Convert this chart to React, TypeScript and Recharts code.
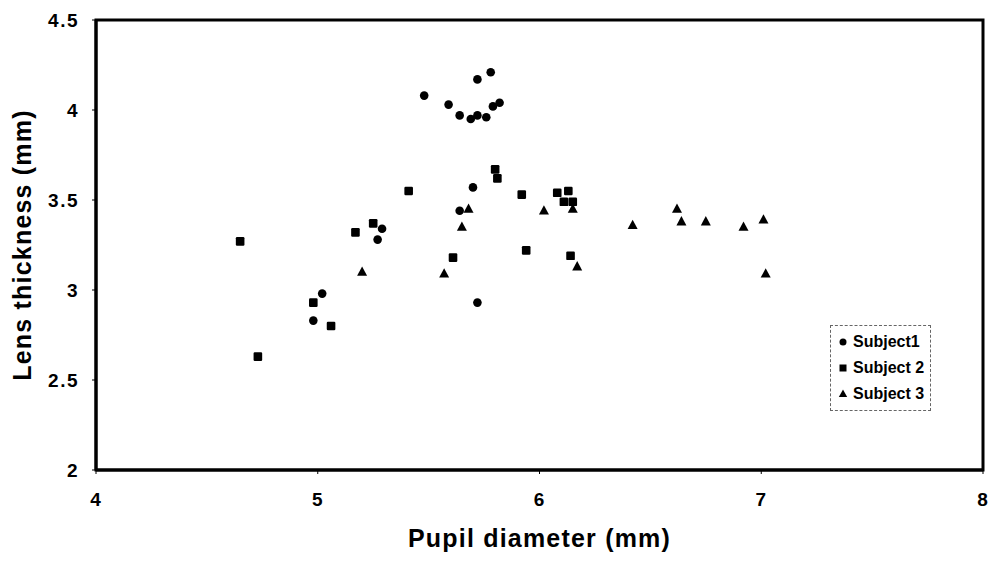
import { ScatterChart, Scatter, XAxis, YAxis, Legend, ReferenceArea } from "recharts";

// values, pupil diameter (mm) vs lens thickness (mm)
const subject1X = [5.48, 5.59, 5.64, 5.69, 5.72, 5.76, 5.79, 5.82, 5.72, 5.78, 5.7, 5.64, 5.29, 5.27, 5.02, 4.98, 5.72];
const subject1Y = [4.08, 4.03, 3.97, 3.95, 3.97, 3.96, 4.02, 4.04, 4.17, 4.21, 3.57, 3.44, 3.34, 3.28, 2.98, 2.83, 2.93];

const subject2X = [4.65, 4.73, 4.98, 5.06, 5.17, 5.25, 5.41, 5.61, 5.8, 5.81, 5.92, 5.94, 6.08, 6.13, 6.11, 6.15, 6.14];
const subject2Y = [3.27, 2.63, 2.93, 2.8, 3.32, 3.37, 3.55, 3.18, 3.67, 3.62, 3.53, 3.22, 3.54, 3.55, 3.49, 3.49, 3.19];

const subject3X = [5.2, 5.57, 5.65, 5.68, 6.02, 6.15, 6.17, 6.42, 6.62, 6.64, 6.75, 6.92, 7.01, 7.02];
const subject3Y = [3.1, 3.09, 3.35, 3.45, 3.44, 3.45, 3.13, 3.36, 3.45, 3.38, 3.38, 3.35, 3.39, 3.09];

const seriesNames = ["Subject1", "Subject 2", "Subject 3"];
const xTicks = [4, 5, 6, 7, 8];
const yTicks = [2, 2.5, 3, 3.5, 4, 4.5];

const FONT = "'Liberation Sans', Arial, Helvetica, sans-serif";

const toPoints = (xs: number[], ys: number[]) => xs.map((x, i) => ({ x, y: ys[i] }));

const XTick = (p: any) => (
  <text x={p.x} y={p.y + 28} textAnchor="middle" fontFamily={FONT} fontWeight="bold" fontSize={19} letterSpacing={1} fill="#000">
    {p.payload.value}
  </text>
);
const YTick = (p: any) => (
  <text x={p.x} y={p.y} dy={7} textAnchor="end" fontFamily={FONT} fontWeight="bold" fontSize={19} letterSpacing={1.5} fill="#000">
    {p.payload.value}
  </text>
);

const CircleMark = (p: any) => <circle cx={p.cx} cy={p.cy} r={4.3} fill="#000" />;
const SquareMark = (p: any) => (
  <rect x={p.cx - 4.3} y={p.cy - 4.3} width={8.6} height={8.6} rx={1.2} fill="#000" />
);
const TriangleMark = (p: any) => (
  <polygon
    points={`${p.cx},${p.cy - 5.5} ${p.cx - 5},${p.cy + 3.8} ${p.cx + 5},${p.cy + 3.8}`}
    fill="#000"
  />
);

const legendIcons = [
  <circle cx={6} cy={8} r={3.5} fill="#000" />,
  <rect x={2.5} y={4.5} width={7} height={7} fill="#000" />,
  <polygon points="6,3.5 1.8,11 10.2,11" fill="#000" />,
];

function LegendBox() {
  return (
    <div
      style={{
        border: "1px dashed #666",
        padding: "3px 0 3px 6px",
        fontFamily: FONT,
        fontWeight: "bold",
        fontSize: 16,
        color: "#000",
        background: "#fff",
      }}
    >
      {seriesNames.map((name, i) => (
        <div key={name} style={{ display: "flex", alignItems: "center", height: 26 }}>
          <svg width={12} height={16} style={{ marginRight: 4 }}>
            {legendIcons[i]}
          </svg>
          <span>{name}</span>
        </div>
      ))}
    </div>
  );
}

export default function App() {
  return (
    <div style={{ position: "absolute", left: 0, top: 0, background: "#fff" }}>
      <ScatterChart width={992} height={562} margin={{ top: 20, right: 9, left: 0, bottom: 0 }}>
        <XAxis
          type="number"
          dataKey="x"
          domain={[4, 8]}
          ticks={xTicks}
          allowDataOverflow
          height={92}
          axisLine={{ stroke: "#000", strokeWidth: 3 }}
          tickLine={{ stroke: "#000", strokeWidth: 1 }}
          tickSize={4}
          tickMargin={4}
          tick={XTick}
          label={{
            content: (props: any) => {
              const vb = props.viewBox;
              return (
                <text
                  x={vb.x + vb.width / 2}
                  y={vb.y + vb.height - 15}
                  textAnchor="middle"
                  fontFamily={FONT}
                  fontWeight="bold"
                  fontSize={25}
                  letterSpacing={1.2}
                  fill="#000"
                >
                  Pupil diameter (mm)
                </text>
              );
            },
          }}
        />
        <YAxis
          type="number"
          dataKey="y"
          domain={[2, 4.5]}
          ticks={yTicks}
          allowDataOverflow
          width={96}
          axisLine={{ stroke: "#000", strokeWidth: 3 }}
          tickLine={{ stroke: "#000", strokeWidth: 1 }}
          tickSize={4}
          tickMargin={13}
          tick={YTick}
          label={{
            content: (props: any) => {
              const vb = props.viewBox;
              const cx = vb.x + 22;
              const cy = vb.y + vb.height / 2;
              return (
                <text
                  x={cx}
                  y={cy}
                  transform={`rotate(-90 ${cx} ${cy})`}
                  textAnchor="middle"
                  dominantBaseline="central"
                  fontFamily={FONT}
                  fontWeight="bold"
                  fontSize={25}
                  letterSpacing={1.2}
                  fill="#000"
                >
                  Lens thickness (mm)
                </text>
              );
            },
          }}
        />
        <ReferenceArea x1={4} x2={8} y1={2} y2={4.5} fill="none" stroke="#000" strokeWidth={3} />
        <Legend
          layout="vertical"
          align="center"
          verticalAlign="middle"
          wrapperStyle={{ left: 830, top: 325, width: 101 }}
          content={() => <LegendBox />}
        />
        <Scatter
          name={seriesNames[0]}
          data={toPoints(subject1X, subject1Y)}
          shape={CircleMark}
          isAnimationActive={false}
        />
        <Scatter
          name={seriesNames[1]}
          data={toPoints(subject2X, subject2Y)}
          shape={SquareMark}
          isAnimationActive={false}
        />
        <Scatter
          name={seriesNames[2]}
          data={toPoints(subject3X, subject3Y)}
          shape={TriangleMark}
          isAnimationActive={false}
        />
      </ScatterChart>
    </div>
  );
}
